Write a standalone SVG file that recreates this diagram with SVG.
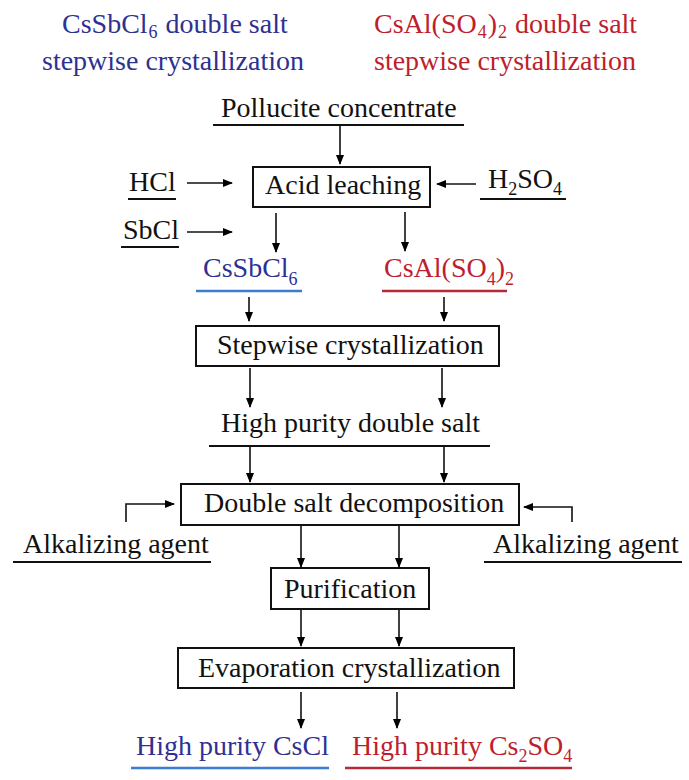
<svg xmlns="http://www.w3.org/2000/svg" width="689" height="780" viewBox="0 0 689 780">
<defs>
<marker id="ah" markerWidth="10" markerHeight="8" refX="9" refY="4" orient="auto" markerUnits="userSpaceOnUse">
<path d="M0,0 L10,4 L0,8 Z" fill="#000"/>
</marker>
</defs>
<style>
text{font-family:"Liberation Serif","Times New Roman",serif;font-size:28px;fill:#111}
.blue{fill:#2e3192}
.red{fill:#be1e2d}
.sub{font-size:18px}
.box{fill:#fff;stroke:#111;stroke-width:2}
.ul{stroke:#111;stroke-width:2}
.ulb{stroke:#3b7dd0;stroke-width:2.5}
.ulr{stroke:#b52a35;stroke-width:2.5}
.c{stroke:#111;stroke-width:1.6;fill:none;marker-end:url(#ah)}
</style>
<rect width="689" height="780" fill="#fff"/>

<g id="title-left">
<text class="blue" x="62" y="33">CsSbCl<tspan class="sub" dx="1" dy="5">6</tspan><tspan dx="1" dy="-5"> double salt</tspan></text>
<text class="blue" x="42" y="70">stepwise crystallization</text>
</g>
<g id="title-right">
<text class="red" x="374" y="33">CsAl(SO<tspan class="sub" dx="1" dy="5">4</tspan><tspan dx="1" dy="-5">)</tspan><tspan class="sub" dx="1" dy="5">2</tspan><tspan dx="1" dy="-5"> double salt</tspan></text>
<text class="red" x="374" y="70">stepwise crystallization</text>
</g>

<g id="pollucite">
<text x="221" y="117">Pollucite concentrate</text>
<line class="ul" x1="213" y1="125" x2="464" y2="125"/>
</g>
<g id="acid-leaching">
<rect class="box" x="253" y="167" width="177" height="40"/>
<text x="265" y="194">Acid leaching</text>
</g>
<g id="hcl">
<text x="129" y="191">HCl</text>
<line class="ul" x1="128" y1="199" x2="176" y2="199"/>
</g>
<g id="sbcl">
<text x="123" y="239">SbCl</text>
<line class="ul" x1="121" y1="247" x2="179" y2="247"/>
</g>
<g id="h2so4">
<text x="488" y="188">H<tspan class="sub" dy="7">2</tspan><tspan dy="-7">SO</tspan><tspan class="sub" dy="7">4</tspan></text>
<line class="ul" x1="480" y1="199" x2="566" y2="199"/>
</g>
<g id="cssbcl6">
<text class="blue" x="203" y="277">CsSbCl<tspan class="sub" dy="8">6</tspan></text>
<line class="ulb" x1="196" y1="291" x2="302" y2="291"/>
</g>
<g id="csalso42">
<text class="red" x="384" y="277">CsAl(SO<tspan class="sub" dy="8">4</tspan><tspan dy="-8">)</tspan><tspan class="sub" dy="8">2</tspan></text>
<line class="ulr" x1="382" y1="291" x2="507" y2="291"/>
</g>
<g id="stepwise">
<rect class="box" x="196" y="326" width="303" height="40"/>
<text x="217" y="354">Stepwise crystallization</text>
</g>
<g id="high-purity-double-salt">
<text x="221" y="432">High purity double salt</text>
<line class="ul" x1="209" y1="446" x2="490" y2="446"/>
</g>
<g id="decomposition">
<rect class="box" x="181" y="484" width="338" height="41"/>
<text x="204" y="512">Double salt decomposition</text>
</g>
<g id="alk-left">
<text x="23" y="553">Alkalizing agent</text>
<line class="ul" x1="13" y1="562" x2="211" y2="562"/>
</g>
<g id="alk-right">
<text x="493" y="553">Alkalizing agent</text>
<line class="ul" x1="484" y1="562" x2="682" y2="562"/>
</g>
<g id="purification">
<rect class="box" x="271" y="568" width="158" height="41"/>
<text x="284" y="598">Purification</text>
</g>
<g id="evaporation">
<rect class="box" x="178" y="648" width="336" height="40"/>
<text x="198" y="677">Evaporation crystallization</text>
</g>
<g id="cscl">
<text class="blue" x="136" y="755">High purity CsCl</text>
<line class="ulb" x1="131" y1="768" x2="329" y2="768"/>
</g>
<g id="cs2so4">
<text class="red" x="352" y="755">High purity Cs<tspan class="sub" dy="7">2</tspan><tspan dy="-7">SO</tspan><tspan class="sub" dy="7">4</tspan></text>
<line class="ulr" x1="345" y1="768" x2="572" y2="768"/>
</g>

<g id="connectors">
<line class="c" x1="340" y1="125" x2="340" y2="164"/>
<line class="c" x1="187" y1="183" x2="232" y2="183"/>
<line class="c" x1="187" y1="232" x2="232" y2="232"/>
<line class="c" x1="476" y1="184" x2="437" y2="184"/>
<line class="c" x1="276" y1="213" x2="276" y2="252"/>
<line class="c" x1="405" y1="212" x2="405" y2="251"/>
<line class="c" x1="249" y1="297" x2="249" y2="321"/>
<line class="c" x1="444" y1="297" x2="444" y2="321"/>
<line class="c" x1="250" y1="368" x2="250" y2="407"/>
<line class="c" x1="442" y1="368" x2="442" y2="407"/>
<line class="c" x1="250" y1="446" x2="250" y2="482"/>
<line class="c" x1="444" y1="446" x2="444" y2="482"/>
<polyline class="c" points="126,522 126,504 174,504"/>
<polyline class="c" points="572,522 572,507 524,507"/>
<line class="c" x1="301" y1="526" x2="301" y2="567"/>
<line class="c" x1="399" y1="526" x2="399" y2="567"/>
<line class="c" x1="301" y1="609" x2="301" y2="646"/>
<line class="c" x1="399" y1="609" x2="399" y2="646"/>
<line class="c" x1="301" y1="692" x2="301" y2="728"/>
<line class="c" x1="397" y1="692" x2="397" y2="728"/>
</g>
</svg>
